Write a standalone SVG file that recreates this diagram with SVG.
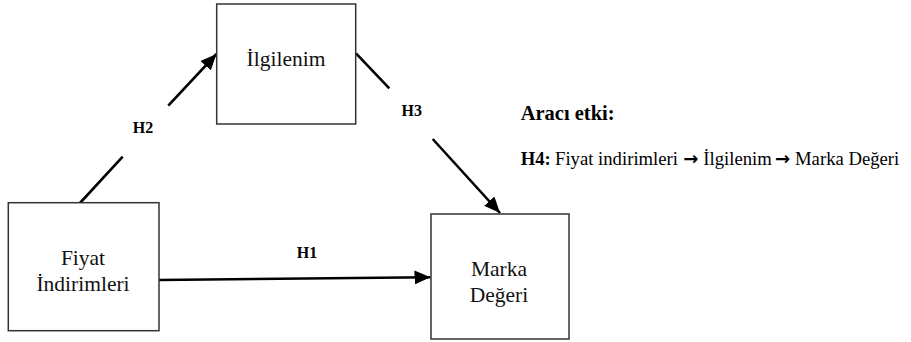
<svg xmlns="http://www.w3.org/2000/svg" width="911" height="342" viewBox="0 0 911 342">
  <style>
    .box { fill: #ffffff; stroke: #333333; stroke-width: 1.5; }
    .node-text { font-family: "Liberation Serif", "Times New Roman", serif; font-size: 21.5px; fill: #111111; text-anchor: middle; }
    .edge { fill: none; stroke: #000000; stroke-width: 2.6; }
    .edge-label { font-family: "Liberation Serif", "Times New Roman", serif; font-size: 16px; font-weight: bold; fill: #000000; text-anchor: middle; }
    .note-title { font-family: "Liberation Serif", "Times New Roman", serif; font-size: 20.5px; font-weight: bold; fill: #000000; }
    .note { font-family: "Liberation Serif", "Times New Roman", serif; font-size: 18.7px; fill: #000000; }
    .note-arrow { font-family: "DejaVu Sans", sans-serif; font-weight: bold; font-size: 18px; }
  </style>
  <defs>
    <marker id="arrow" markerUnits="userSpaceOnUse" markerWidth="17" markerHeight="15" refX="16" refY="7" orient="auto">
      <path d="M0,0 L16,7 L0,14 z" fill="#000000"/>
    </marker>
  </defs>

  <rect width="911" height="342" fill="#ffffff"/>

  <!-- connectors -->
  <g id="connectors">
    <path id="edge-h2" class="edge" d="M80,203 L122.7,156.7 M168.3,105.7 L216.5,54" marker-end="url(#arrow)"/>
    <path id="edge-h3" class="edge" d="M356,53.3 L389.3,88.3 M432.7,139 L500,213" marker-end="url(#arrow)"/>
    <path id="edge-h1" class="edge" d="M159,280 L430.5,277.3" marker-end="url(#arrow)"/>
    <text class="edge-label" x="143" y="133">H2</text>
    <text class="edge-label" x="411.7" y="116">H3</text>
    <text class="edge-label" x="307" y="258">H1</text>
  </g>

  <!-- nodes -->
  <g id="node-ilgilenim">
    <rect class="box" x="216.7" y="4" width="139" height="120"/>
    <text class="node-text" x="286" y="66">İlgilenim</text>
  </g>
  <g id="node-fiyat">
    <rect class="box" x="8.3" y="202.7" width="150.7" height="128"/>
    <text class="node-text" x="83" y="265">Fiyat</text>
    <text class="node-text" x="83" y="291">İndirimleri</text>
  </g>
  <g id="node-marka">
    <rect class="box" x="431" y="214" width="138" height="125"/>
    <text class="node-text" x="499" y="276">Marka</text>
    <text class="node-text" x="499" y="302">Değeri</text>
  </g>

  <!-- mediation note -->
  <g id="note-mediation">
    <text class="note-title" x="520.7" y="120">Aracı etki:</text>
    <text class="note" y="164.5"><tspan x="520.7" font-weight="bold">H4:</tspan><tspan x="555">Fiyat indirimleri</tspan><tspan class="note-arrow" x="683.3">→</tspan><tspan x="703.3">İlgilenim</tspan><tspan class="note-arrow" x="775">→</tspan><tspan x="795">Marka Değeri</tspan></text>
  </g>
</svg>
